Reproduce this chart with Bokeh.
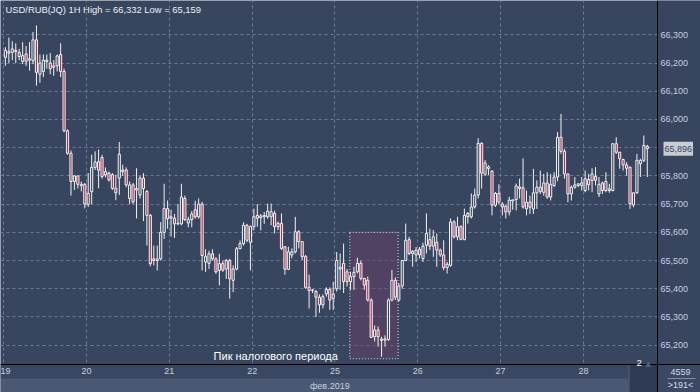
import math
from bokeh.plotting import figure
from bokeh.models import (Range1d, LinearAxis, FixedTicker, Grid, Label,
                          ColumnDataSource, BoxAnnotation, CDSView, IndexFilter)
from bokeh.embed import file_html
from bokeh.resources import INLINE

# ---------------- data ----------------
title_text = "USD/RUB(JQ) 1H High = 66,332 Low = 65,159"
day_labels = ["19", "20", "21", "22", "25", "26", "27", "28"]
day_ticks = [-0.5, 23.5, 47.5, 71.5, 95.5, 119.5, 143.5, 167.5]
month_tick = [94]
month_label = ["фев.2019"]
price_ticks = [65.2, 65.3, 65.4, 65.5, 65.6, 65.7, 65.8, 65.9, 66.0, 66.1, 66.2, 66.3]
price_labels = ["65,200", "65,300", "65,400", "65,500", "65,600", "65,700",
                "65,800", "", "66,000", "66,100", "66,200", "66,300"]
last_price = 65.896
last_price_text = "65,896"
annotation_text = "Пик налогового периода"
highlight_bars = [99.8, 113.8]
highlight_prices = [65.152, 65.600]
counter_top = "4559"
counter_bottom = ">191<"
marker_text = "2"

opens = [
    # 19
    66.220, 66.240, 66.238, 66.240, 66.238, 66.206, 66.232, 66.210, 66.208, 66.282, 66.160, 66.170,
    66.205, 66.200, 66.185, 66.190, 66.230, 66.170, 65.960, 65.880, 65.780, 65.800, 65.765, 65.770,
    # 20
    65.699, 65.744, 65.830, 65.850, 65.865, 65.804, 65.810, 65.804, 65.756, 65.792, 65.821, 65.821,
    65.720, 65.768, 65.750, 65.732, 65.792, 65.745, 65.660, 65.506, 65.500, 65.506, 65.600, 65.684,
    # 21
    65.650, 65.650, 65.630, 65.630, 65.720, 65.633, 65.645, 65.680, 65.655, 65.700, 65.495, 65.490,
    65.524, 65.506, 65.465, 65.489, 65.470, 65.500, 65.430, 65.470, 65.542, 65.560, 65.625, 65.565,
    # 22
    65.620, 65.660, 65.652, 65.655, 65.655, 65.655, 65.667, 65.620, 65.632, 65.549, 65.469, 65.520,
    65.531, 65.602, 65.567, 65.514, 65.405, 65.394, 65.390, 65.370, 65.343, 65.382, 65.398, 65.366,
    # 25
    65.400, 65.470, 65.490, 65.460, 65.425, 65.443, 65.460, 65.490, 65.437, 65.430, 65.360, 65.230,
    65.254, 65.222, 65.218, 65.220, 65.360, 65.430, 65.360, 65.410, 65.500, 65.574, 65.525, 65.520,
    # 26
    65.540, 65.507, 65.554, 65.574, 65.551, 65.565, 65.537, 65.520, 65.475, 65.483, 65.637, 65.584,
    65.620, 65.574, 65.667, 65.655, 65.690, 65.732, 65.915, 65.806, 65.826, 65.817, 65.696, 65.738,
    # 27
    65.700, 65.693, 65.672, 65.711, 65.716, 65.761, 65.758, 65.683, 65.707, 65.683, 65.740, 65.760,
    65.742, 65.775, 65.725, 65.766, 65.796, 65.937, 65.887, 65.807, 65.736, 65.760, 65.766, 65.766,
    # 28
    65.748, 65.787, 65.784, 65.798, 65.736, 65.775, 65.748, 65.754, 65.748, 65.914, 65.884, 65.858,
    65.839, 65.831, 65.697, 65.740, 65.843, 65.855, 65.905,
]
highs = [
    66.256, 66.290, 66.277, 66.270, 66.250, 66.274, 66.260, 66.274, 66.310, 66.333, 66.230, 66.230,
    66.230, 66.235, 66.210, 66.230, 66.270, 66.180, 65.965, 65.890, 65.800, 65.800, 65.780, 65.775,
    65.810, 65.875, 65.887, 65.893, 65.875, 65.830, 65.815, 65.810, 65.804, 65.920, 65.840, 65.830,
    65.780, 65.775, 65.827, 65.800, 65.810, 65.750, 65.665, 65.553, 65.553, 65.636, 65.772, 65.713,
    65.680, 65.665, 65.700, 65.772, 65.730, 65.655, 65.675, 65.712, 65.720, 65.708, 65.540, 65.535,
    65.540, 65.512, 65.524, 65.500, 65.506, 65.506, 65.483, 65.548, 65.571, 65.636, 65.630, 65.625,
    65.684, 65.700, 65.665, 65.672, 65.702, 65.702, 65.677, 65.638, 65.667, 65.550, 65.549, 65.543,
    65.655, 65.608, 65.567, 65.520, 65.450, 65.398, 65.396, 65.380, 65.380, 65.405, 65.405, 65.425,
    65.530, 65.525, 65.560, 65.470, 65.460, 65.478, 65.510, 65.500, 65.437, 65.443, 65.366, 65.270,
    65.266, 65.230, 65.235, 65.366, 65.467, 65.440, 65.420, 65.502, 65.631, 65.584, 65.537, 65.548,
    65.548, 65.563, 65.667, 65.613, 65.608, 65.596, 65.543, 65.572, 65.495, 65.649, 65.643, 65.655,
    65.625, 65.684, 65.672, 65.738, 65.755, 65.933, 65.920, 65.856, 65.838, 65.820, 65.743, 65.770,
    65.707, 65.696, 65.726, 65.716, 65.773, 65.790, 65.862, 65.748, 65.730, 65.825, 65.784, 65.819,
    65.807, 65.813, 65.807, 65.813, 65.955, 66.020, 65.896, 65.807, 65.766, 65.796, 65.772, 65.796,
    65.819, 65.807, 65.827, 65.831, 65.796, 65.780, 65.813, 65.772, 65.914, 65.937, 65.884, 65.861,
    65.849, 65.831, 65.742, 65.878, 65.861, 65.943, 65.910,
]
lows = [
    66.190, 66.200, 66.210, 66.200, 66.210, 66.196, 66.190, 66.173, 66.196, 66.120, 66.130, 66.150,
    66.180, 66.160, 66.155, 66.170, 66.150, 65.955, 65.875, 65.730, 65.750, 65.755, 65.745, 65.685,
    65.690, 65.700, 65.821, 65.756, 65.790, 65.795, 65.780, 65.750, 65.714, 65.732, 65.800, 65.760,
    65.700, 65.700, 65.649, 65.720, 65.640, 65.553, 65.480, 65.483, 65.465, 65.500, 65.577, 65.613,
    65.585, 65.580, 65.625, 65.625, 65.640, 65.618, 65.618, 65.648, 65.648, 65.465, 65.460, 65.470,
    65.500, 65.453, 65.412, 65.460, 65.435, 65.365, 65.388, 65.465, 65.540, 65.553, 65.565, 65.465,
    65.607, 65.620, 65.607, 65.630, 65.648, 65.625, 65.596, 65.608, 65.537, 65.450, 65.466, 65.508,
    65.525, 65.543, 65.502, 65.400, 65.330, 65.385, 65.300, 65.315, 65.330, 65.372, 65.325, 65.325,
    65.390, 65.396, 65.385, 65.408, 65.396, 65.396, 65.455, 65.430, 65.396, 65.355, 65.225, 65.213,
    65.195, 65.159, 65.195, 65.215, 65.355, 65.360, 65.355, 65.400, 65.498, 65.519, 65.478, 65.495,
    65.507, 65.495, 65.525, 65.537, 65.513, 65.478, 65.513, 65.466, 65.454, 65.478, 65.578, 65.572,
    65.572, 65.572, 65.631, 65.649, 65.684, 65.720, 65.755, 65.800, 65.803, 65.660, 65.690, 65.700,
    65.660, 65.649, 65.660, 65.680, 65.678, 65.720, 65.684, 65.660, 65.665, 65.665, 65.683, 65.736,
    65.730, 65.719, 65.713, 65.760, 65.781, 65.878, 65.790, 65.707, 65.713, 65.754, 65.760, 65.748,
    65.742, 65.748, 65.742, 65.766, 65.725, 65.736, 65.742, 65.740, 65.745, 65.878, 65.825, 65.819,
    65.801, 65.683, 65.689, 65.736, 65.796, 65.849, 65.796,
]
closes = [
    66.245, 66.235, 66.250, 66.245, 66.223, 66.226, 66.206, 66.215, 66.282, 66.167, 66.200, 66.210,
    66.210, 66.180, 66.190, 66.225, 66.170, 65.960, 65.880, 65.780, 65.800, 65.770, 65.770, 65.700,
    65.738, 65.830, 65.849, 65.820, 65.798, 65.815, 65.786, 65.756, 65.740, 65.877, 65.815, 65.768,
    65.768, 65.708, 65.755, 65.792, 65.755, 65.660, 65.489, 65.500, 65.506, 65.600, 65.684, 65.648,
    65.655, 65.630, 65.632, 65.725, 65.645, 65.645, 65.665, 65.655, 65.700, 65.518, 65.515, 65.524,
    65.506, 65.460, 65.489, 65.466, 65.500, 65.435, 65.470, 65.542, 65.560, 65.625, 65.572, 65.620,
    65.655, 65.650, 65.658, 65.660, 65.675, 65.673, 65.620, 65.632, 65.543, 65.469, 65.531, 65.531,
    65.602, 65.567, 65.514, 65.405, 65.394, 65.396, 65.370, 65.343, 65.372, 65.398, 65.360, 65.381,
    65.500, 65.476, 65.425, 65.425, 65.443, 65.458, 65.490, 65.437, 65.413, 65.360, 65.228, 65.254,
    65.230, 65.217, 65.222, 65.360, 65.430, 65.370, 65.410, 65.500, 65.572, 65.525, 65.533, 65.537,
    65.520, 65.551, 65.596, 65.551, 65.584, 65.537, 65.520, 65.475, 65.487, 65.637, 65.584, 65.620,
    65.575, 65.660, 65.655, 65.690, 65.732, 65.915, 65.810, 65.846, 65.832, 65.696, 65.738, 65.707,
    65.690, 65.672, 65.714, 65.715, 65.764, 65.755, 65.690, 65.707, 65.689, 65.740, 65.760, 65.745,
    65.775, 65.725, 65.770, 65.796, 65.937, 65.887, 65.807, 65.736, 65.760, 65.768, 65.772, 65.775,
    65.790, 65.768, 65.807, 65.784, 65.770, 65.748, 65.780, 65.748, 65.914, 65.884, 65.861, 65.839,
    65.827, 65.701, 65.740, 65.855, 65.855, 65.908, 65.896,
]

# ---------------- geometry / style ----------------
W, H = 700, 392              # canvas
CHART_W, CHART_H = 657, 364  # chart area (rest: price scale and time scale)
BAR_PX = 3.451               # pixels per hourly bar
UNIT_PX = 282.2              # pixels per 1 RUB
X0 = -1.42                   # bar index at left edge
Y1 = 66.4215                 # price at top edge


def dx(px):
    return px / BAR_PX


def dy(px):
    return px / UNIT_PX


XC = X0 + dx(CHART_W)
X_END = X0 + dx(W)
YC = Y1 - dy(CHART_H)
Y_END = Y1 - dy(H)

RED = "#b12f52"
WHITE = "#f2f2f2"
GRID = "#6a7a98"
AXIS_TXT = "#c6d0df"
FONT = "Liberation Sans"
BG = "#37455f"

n = len(closes)
xs = list(range(n))
tops = [max(o, c) for o, c in zip(opens, closes)]
bots = [min(o, c) for o, c in zip(opens, closes)]
src = ColumnDataSource(dict(x=xs, o=opens, h=highs, l=lows, c=closes,
                            top=tops, bottom=bots))
up = [i for i in xs if closes[i] >= opens[i]]
down = [i for i in xs if closes[i] < opens[i]]

p = figure(width=W, height=H, x_range=Range1d(X0, X_END), y_range=Range1d(Y_END, Y1),
           output_backend="svg", toolbar_location=None,
           x_axis_location=None, y_axis_location=None, min_border=0,
           background_fill_color=BG, border_fill_color=BG, outline_line_color=None)
# drop the default grids
p.center = [r for r in p.center if not isinstance(r, Grid)]

# grids
p.add_layout(Grid(dimension=0, ticker=FixedTicker(ticks=day_ticks), grid_line_color=GRID,
                  grid_line_dash="3 3", grid_line_width=1))
p.add_layout(Grid(dimension=1, ticker=FixedTicker(ticks=price_ticks), grid_line_color=GRID,
                  grid_line_dash="3 3", grid_line_width=1))


def band(color, **kw):
    p.add_layout(BoxAnnotation(fill_color=color, fill_alpha=1, line_color=None,
                               level="glyph", **kw))


# price-scale and time-scale panels (drawn over the grid)
band(BG, left=XC, right=None, top=None, bottom=YC)
band("#3a4762", left=None, right=XC, top=YC, bottom=YC - dy(14))
band("#4a5874", left=None, right=XC - dx(29), top=YC - dy(14), bottom=None)
band("#2f3b54", left=XC - dx(29), right=XC, top=YC, bottom=None)
band("#5a6781", left=XC - dx(29), right=XC - dx(28), top=YC, bottom=None)
band("#3b4863", left=XC, right=None, top=YC, bottom=None)
band("#7f8ca4", left=XC + dx(10), right=XC + dx(38), top=YC - dy(13.5), bottom=YC - dy(14.5))

common = dict(major_tick_line_color=None, minor_tick_line_color=None,
              major_tick_out=0, major_tick_in=0, minor_tick_out=0, minor_tick_in=0,
              major_label_text_color=AXIS_TXT, major_label_text_font=FONT,
              major_label_text_font_size="9px")

yax = LinearAxis(fixed_location=XC, ticker=FixedTicker(ticks=price_ticks),
                 major_label_overrides=dict(zip(price_ticks, price_labels)),
                 axis_line_color="black", axis_line_width=1,
                 major_label_standoff=3, **common)
p.add_layout(yax, "right")

xax = LinearAxis(fixed_location=YC, ticker=FixedTicker(ticks=day_ticks),
                 major_label_overrides=dict(zip(day_ticks, day_labels)),
                 axis_line_color="black", axis_line_width=1,
                 major_label_standoff=3, **common)
p.add_layout(xax, "below")
max_ = LinearAxis(fixed_location=YC - dy(14), ticker=FixedTicker(ticks=month_tick),
                  major_label_overrides=dict(zip(month_tick, month_label)),
                  axis_line_color=None, major_label_standoff=2, **common)
p.add_layout(max_, "below")

# highlight box
p.quad(left=[highlight_bars[0]], right=[highlight_bars[1]],
       bottom=[highlight_prices[0]], top=[highlight_prices[1]],
       fill_color="#6e3f66", fill_alpha=0.45, line_color="#e6dcea",
       line_dash="1 2", line_width=1)

# candles: wicks, then bodies (hollow up, red down)
p.segment(x0="x", y0="l", x1="x", y1="h", source=src, line_color=WHITE, line_width=1)
p.vbar(x="x", top="top", bottom="bottom", width=0.62, fill_color=BG,
       line_color=WHITE, line_width=1, source=src, view=CDSView(filter=IndexFilter(up)))
p.vbar(x="x", top="top", bottom="bottom", width=0.62, fill_color=RED,
       line_color=WHITE, line_width=1, source=src, view=CDSView(filter=IndexFilter(down)))

# last price tag
p.add_layout(Label(x=XC, y=last_price, x_offset=6, text=last_price_text,
                   text_baseline="middle", text_font=FONT, text_font_size="9px",
                   text_color="#34466a", background_fill_color="#c9ccd3",
                   padding=(1, 4)))

# texts
p.add_layout(Label(x=X0, y=Y1, x_offset=5, y_offset=-3, text=title_text,
                   text_baseline="top", text_font=FONT, text_font_size="9.4px",
                   text_color="#eef1f5"))
p.add_layout(Label(x=highlight_bars[0], y=YC, x_offset=-12, y_offset=9, text=annotation_text,
                   text_align="right", text_baseline="alphabetic", text_font=FONT,
                   text_font_size="11px", text_color="#ffffff"))
p.add_layout(Label(x=XC, y=YC, x_offset=-21, y_offset=2, text=marker_text,
                   text_baseline="alphabetic", text_font=FONT, text_font_size="9.5px",
                   text_color="#ffffff"))
p.add_layout(Label(x=XC, y=YC, x_offset=-12, y_offset=1, text="▲",
                   text_baseline="alphabetic", text_font="DejaVu Sans", text_font_size="7px",
                   text_color="#56647f"))
p.add_layout(Label(x=XC, y=YC, x_offset=23, y_offset=-7.5, text=counter_top,
                   text_align="center", text_baseline="middle", text_font=FONT,
                   text_font_size="9px", text_color="#d4dbe6"))
p.add_layout(Label(x=XC, y=YC, x_offset=23, y_offset=-20.5, text=counter_bottom,
                   text_align="center", text_baseline="middle", text_font=FONT,
                   text_font_size="9px", text_color="#d4dbe6"))

open("out.html", "w").write(file_html(p, INLINE))
